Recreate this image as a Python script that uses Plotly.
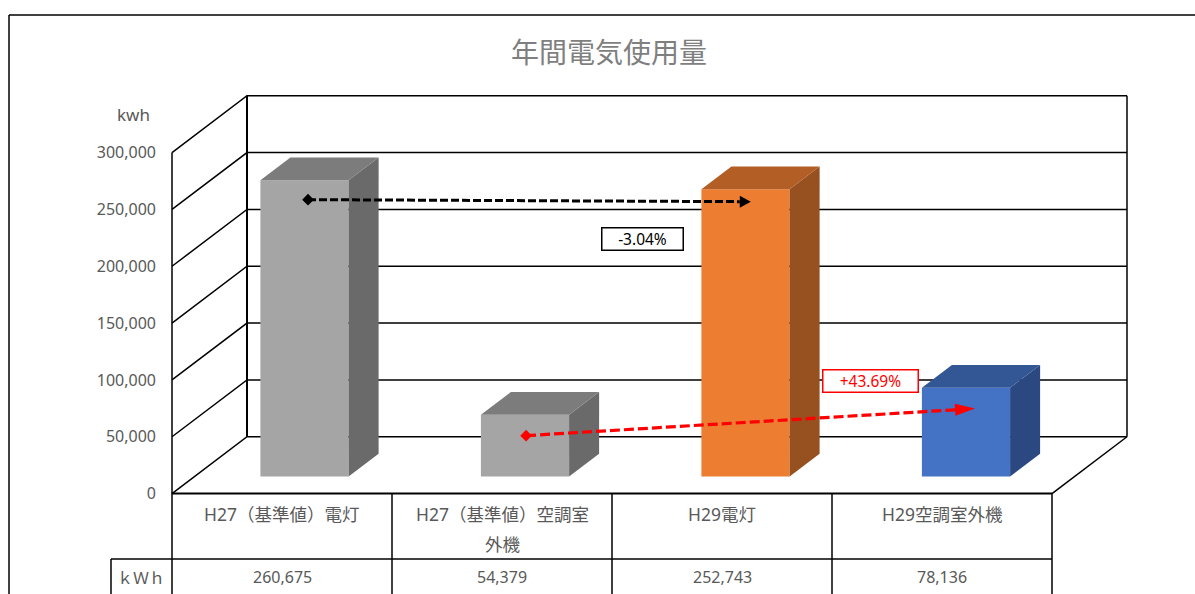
import math
import plotly.graph_objects as go

# ---- data ----
categories_line1 = ["H27（基準値）電灯", "H27（基準値）空調室", "H29電灯", "H29空調室外機"]
categories_line2 = ["", "外機", "", ""]
values = [260675, 54379, 252743, 78136]
y_ticks = [0, 50000, 100000, 150000, 200000, 250000, 300000]
face_colors = ["#a5a5a5", "#a5a5a5", "#ed7d31", "#4472c4"]
side_colors = ["#6a6a6a", "#6a6a6a", "#97501f", "#2b4880"]
top_colors = ["#7c7c7c", "#7c7c7c", "#b25e24", "#335694"]
title_text = "年間電気使用量"
unit_text = "kwh"
row_header = "ｋＷｈ"
# comparison arrows, in (category position, value on the front plane)
black_arrow_x = [0.118, 2.126]
black_arrow_y = [258600, 256800]
red_arrow_x = [1.107, 3.143]
red_arrow_y = [51000, 74800]
black_label = "-3.04%"
red_label = "+43.69%"

# ---- layout geometry ----
W, H = 1195, 594
PX_PER_CAT = 220.5
CAT0_PX = 282.0
ZERO_PX = 493.6
PX_PER_VAL = 341.0 / 300000.0
DEPTH_X = 75.0 / PX_PER_CAT      # full floor depth, in category units
DEPTH_Y = 50000.0                # full floor depth, in value units
BAR_W = 0.4
BAR_D0, BAR_D1 = 0.3, 0.7
INK = "#000000"
TXT = "#595959"
FONT = "Noto Sans, Noto Sans CJK JP, sans-serif"
CJK = "Noto Sans CJK JP, sans-serif"


def px(x):
    return x / W


def py(y):
    return 1 - y / H


def proj(cat, val, depth=0.0):
    return cat + depth * DEPTH_X, val + depth * DEPTH_Y


fig = go.Figure()


def poly(points, color):
    fig.add_trace(go.Scatter(
        x=[p[0] for p in points] + [points[0][0]],
        y=[p[1] for p in points] + [points[0][1]],
        mode="lines", fill="toself", fillcolor=color,
        line=dict(width=0, color=color), hoverinfo="skip", showlegend=False))


def path(xs, ys, width=1.5, color=INK, dash=None):
    fig.add_trace(go.Scatter(
        x=xs, y=ys, mode="lines",
        line=dict(width=width, color=color, dash=dash),
        hoverinfo="skip", showlegend=False))


# walls and floor
x_l, x_r = (172 - CAT0_PX) / PX_PER_CAT, (1052 - CAT0_PX) / PX_PER_CAT
top = max(y_ticks)
for t in y_ticks:
    a = proj(x_l, t, 0)
    b = proj(x_l, t, 1)
    c = proj(x_r, t, 1)
    path([a[0], b[0], c[0]], [a[1], b[1], c[1]])
path([x_l, x_l], [0, top])
b0, b1 = proj(x_l, 0, 1), proj(x_l, top, 1)
path([b0[0], b1[0]], [b0[1], b1[1]], width=2)
c0, c1 = proj(x_r, 0, 1), proj(x_r, top, 1)
path([c0[0], c1[0]], [c0[1], c1[1]])
path([x_r, c0[0]], [0, c0[1]])
path([x_l, x_r], [0, 0], width=2)

# bars
for i, v in enumerate(values):
    l, r = i - BAR_W / 2, i + BAR_W / 2
    poly([proj(l, 0, BAR_D0), proj(r, 0, BAR_D0), proj(r, v, BAR_D0), proj(l, v, BAR_D0)], face_colors[i])
    poly([proj(r, 0, BAR_D0), proj(r, 0, BAR_D1), proj(r, v, BAR_D1), proj(r, v, BAR_D0)], side_colors[i])
    poly([proj(l, v, BAR_D0), proj(r, v, BAR_D0), proj(r, v, BAR_D1), proj(l, v, BAR_D1)], top_colors[i])


def arrow(xs, ys, color, head_len, head_half, width, dash, dsize):
    dx_px = (xs[1] - xs[0]) * PX_PER_CAT
    dy_px = (ys[1] - ys[0]) * PX_PER_VAL
    n = math.hypot(dx_px, dy_px)
    ux, uy = dx_px / n, dy_px / n
    bx = xs[1] - ux * head_len / PX_PER_CAT
    by = ys[1] - uy * head_len / PX_PER_VAL
    path([xs[0], bx], [ys[0], by], width=width, color=color, dash=dash)
    poly([(xs[1], ys[1]),
          (bx - uy * head_half / PX_PER_CAT, by + ux * head_half / PX_PER_VAL),
          (bx + uy * head_half / PX_PER_CAT, by - ux * head_half / PX_PER_VAL)], color)
    fig.add_trace(go.Scatter(x=[xs[0]], y=[ys[0]], mode="markers",
                             marker=dict(symbol="diamond", size=dsize, color=color, line=dict(width=0)),
                             hoverinfo="skip", showlegend=False))


arrow(black_arrow_x, black_arrow_y, "#000000", 11, 6, 3, "8px,3px", 9)
arrow(red_arrow_x, red_arrow_y, "#ff0000", 20, 6, 3.2, "10px,4px", 9)

# outer frame and data table
shapes = []


def seg(x0, y0, x1, y1, width=1.5):
    shapes.append(dict(type="line", xref="paper", yref="paper",
                       x0=px(x0), y0=py(y0), x1=px(x1), y1=py(y1),
                       line=dict(color=INK, width=width)))


seg(9, 15, W + 2, 15)
seg(9, 15, 9, H + 2)
seg(111, 559, 1052, 559)
seg(111, 559, 111, H + 2)
for xp in (172, 392, 612, 832, 1052):
    seg(xp, 493, xp, H + 2)

CENTER = dict(xanchor="center", yanchor="middle", showarrow=False)
ann = []
ann.append(dict(text=unit_text, x=px(133), y=py(115), xref="paper", yref="paper", **CENTER,
                font=dict(family=FONT, size=17, color=TXT)))
ann.append(dict(text=row_header, x=px(141), y=py(577), xref="paper", yref="paper", **CENTER,
                font=dict(family=CJK, size=16, color=TXT)))
for i, (a, b, v) in enumerate(zip(categories_line1, categories_line2, values)):
    cx = px(282 + 220 * i)
    ann.append(dict(text=a, x=cx, xref="paper", y=py(514), yref="paper", **CENTER,
                    font=dict(family=FONT, size=17.5, color=TXT)))
    if b:
        ann.append(dict(text=b, x=cx, xref="paper", y=py(544), yref="paper", **CENTER,
                        font=dict(family=FONT, size=17.5, color=TXT)))
    ann.append(dict(text=f"{v:,}", x=cx, xref="paper", y=py(577), yref="paper", **CENTER,
                    font=dict(family=FONT, size=16, color=TXT)))
ann.append(dict(text=black_label, x=px(642), y=py(238.5), xref="paper", yref="paper", **CENTER,
                width=80, height=21, bgcolor="#ffffff", bordercolor="#000000", borderwidth=1.5, borderpad=0,
                font=dict(family=FONT, size=15.5, color="#000000")))
ann.append(dict(text=red_label, x=px(870), y=py(380.5), xref="paper", yref="paper", **CENTER,
                width=94, height=21, bgcolor="#ffffff", bordercolor="#ff0000", borderwidth=1.5, borderpad=0,
                font=dict(family=FONT, size=15.5, color="#ff0000")))

fig.update_layout(
    width=W, height=H, autosize=False,
    margin=dict(l=0, r=0, t=0, b=0),
    paper_bgcolor="#ffffff", plot_bgcolor="#ffffff",
    showlegend=False,
    title=dict(text=title_text, x=609 / W, xanchor="center", xref="paper",
               y=py(53), yanchor="middle", yref="paper",
               font=dict(family=CJK, size=28, color="#7f7f7f")),
    xaxis=dict(range=[(0 - CAT0_PX) / PX_PER_CAT, (W - CAT0_PX) / PX_PER_CAT],
               showgrid=False, zeroline=False, showticklabels=False, ticks="", showline=False, fixedrange=True),
    yaxis=dict(range=[(ZERO_PX - H) / PX_PER_VAL, ZERO_PX / PX_PER_VAL],
               anchor="free", position=px(171), side="left",
               tickmode="array", tickvals=y_ticks, ticktext=[f"{t:,}" for t in y_ticks],
               ticks="", ticklabelstandoff=15, showgrid=False, zeroline=False, showline=False,
               tickfont=dict(family=FONT, size=16, color=TXT), fixedrange=True),
    shapes=shapes, annotations=ann,
)

fig.write_html("out.html", config=dict(displayModeBar=False),
               post_script="document.body.style.margin='0';document.body.style.overflow='hidden';")
